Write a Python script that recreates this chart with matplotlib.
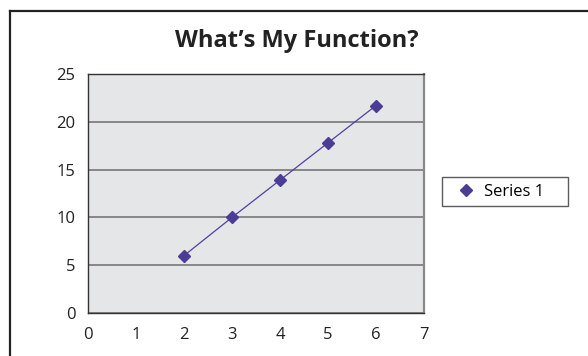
import matplotlib.pyplot as plt
from matplotlib.lines import Line2D

x_vals = [2, 3, 4, 5, 6]
y_vals = [6, 10, 13.9, 17.8, 21.7]
series_name = "Series 1"
title = "What\u2019s My Function?"

plt.rcParams['font.family'] = ['Open Sans', 'DejaVu Sans']

fig = plt.figure(figsize=(5.88, 3.56), dpi=100)
fig.patch.set_facecolor('white')

# outer chart frame (only left and top edges visible)
fig.add_artist(Line2D([10/588, 10/588], [0, 1 - 11/356], color='#222222', lw=1.6))
fig.add_artist(Line2D([10/588, 1], [1 - 11/356, 1 - 11/356], color='#222222', lw=1.6))

ax = fig.add_axes([88/588, 43/356, 336/588, 239/356])
ax.set_facecolor('#e5e6e8')

ax.plot(x_vals, y_vals, color='#5040a0', lw=0.9, marker='D', ms=5.8,
        markerfacecolor='#4b3c96', markeredgecolor='#4b3c96', label=series_name)

ax.set_xlim(0, 7)
ax.set_ylim(0, 25)
ax.set_xticks(range(0, 8))
ax.set_yticks(range(0, 26, 5))
ax.yaxis.grid(True, color='#808080', lw=1.3)
ax.set_axisbelow(True)
ax.tick_params(length=0, labelsize=12, colors='#222222')
ax.tick_params(axis='x', pad=10)
ax.tick_params(axis='y', pad=9)

for side in ['left', 'bottom', 'top']:
    ax.spines[side].set_color('#333333')
    ax.spines[side].set_linewidth(1.0)
ax.spines['right'].set_color('#888888')
ax.spines['right'].set_linewidth(1.6)

fig.text(297/588, 1 - 47/356, title, ha='center', va='baseline',
         fontsize=17, fontweight='bold', color='#222222')

leg = fig.legend(loc='center', bbox_to_anchor=(442/588, 1 - 208/356, 126/588, 33/356),
                 mode='expand', borderaxespad=0,
                 fontsize=12, frameon=True, fancybox=False, handlelength=2.1,
                 handletextpad=0.05, borderpad=0.4)
leg.get_frame().set_edgecolor('#333333')
leg.get_frame().set_linewidth(1.0)
for h in leg.get_lines():
    h.set_linestyle('none')

fig.savefig('out.png', dpi=100)
